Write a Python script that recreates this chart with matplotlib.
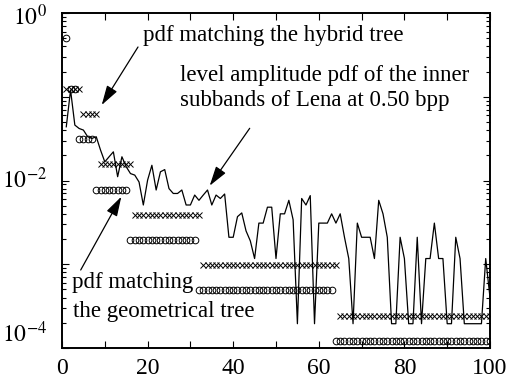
import matplotlib
matplotlib.use("Agg")
import matplotlib.pyplot as plt
import matplotlib.transforms as mtrans
from matplotlib.ticker import FixedLocator, LogLocator, NullFormatter

# ---------------- data ----------------
amplitude = list(range(1, 101))
pdf_lena = [
    0.0438, 0.120, 0.0459, 0.0418, 0.0400, 0.0333, 0.0318, 0.0333, 0.0231, 0.0167,
    0.0192, 0.0220, 0.0111, 0.0192, 0.0146, 0.0121, 0.0116, 0.0096, 0.0051, 0.0101,
    0.0152, 0.0077, 0.0127, 0.0135, 0.0080, 0.0070, 0.0070, 0.0077, 0.0051, 0.0051,
    0.0067, 0.0058, 0.0067, 0.0077, 0.0051, 0.0067, 0.0061, 0.0069, 0.0021, 0.0021,
    0.0037, 0.0041, 0.0025, 0.0019, 0.00117, 0.0031, 0.0031, 0.0048, 0.0048, 0.00117,
    0.0040, 0.0040, 0.0058, 0.0034, 0.000195, 0.0061, 0.0051, 0.0066, 0.000195, 0.0031,
    0.0031, 0.0031, 0.0040, 0.0031, 0.0040, 0.0021, 0.00117, 0.000195, 0.0031, 0.0021,
    0.0021, 0.0021, 0.00117, 0.0058, 0.0040, 0.0021, 0.000195, 0.000195, 0.0021, 0.00117,
    0.000195, 0.000195, 0.0021, 0.000195, 0.00117, 0.00117, 0.0031, 0.00117, 0.00117, 0.000195,
    0.000195, 0.0021, 0.00117, 0.000195, 0.000195, 0.000195, 0.000195, 0.000195, 0.00117, 0.0004,
]

# piecewise-constant model pdfs: (first amplitude, last amplitude, level)
hybrid_start = [1, 5, 9, 17, 33, 65]
hybrid_end = [4, 8, 16, 32, 64, 100]
hybrid_level = [0.125, 0.0625, 0.0156, 0.0039, 0.00098, 0.000244]

geo_start = [1, 2, 4, 8, 16, 32, 64]
geo_end = [1, 3, 7, 15, 31, 63, 100]
geo_level = [0.5, 0.125, 0.0313, 0.0078, 0.00195, 0.00049, 0.000122]

xtick_labels = ["0", "20", "40", "60", "80", "100"]
ytick_vals = [1e0, 1e-2, 1e-4]
ytick_text = ["$10^{0}$", "$10^{-2}$", "$10^{-4}$"]


def expand(starts, ends, levels):
    xs, ys = [], []
    for s, e, v in zip(starts, ends, levels):
        for a in range(s, e + 1):
            xs.append(a)
            ys.append(v)
    return xs, ys


hx, hy = expand(hybrid_start, hybrid_end, hybrid_level)
gx, gy = expand(geo_start, geo_end, geo_level)

# ---------------- figure ----------------
plt.rcParams["font.family"] = ["Liberation Serif", "DejaVu Serif"]
plt.rcParams["mathtext.fontset"] = "stix"

fig = plt.figure(figsize=(5.27, 3.80), dpi=100)
L, R, T, B = 62, 490, 13, 348
ax = fig.add_axes([L / 527, 1 - B / 380, (R - L) / 527, (B - T) / 380])

ax.plot(amplitude, pdf_lena, color="black", lw=0.9, zorder=3)
ax.plot(hx, hy, linestyle="none", marker="x", ms=4.4, mew=0.7, color="black", zorder=4)
ax.plot(gx, gy, linestyle="none", marker="o", ms=4.8, mew=0.7, mfc="none", mec="black", zorder=4)

ax.set_yscale("log")
ax.set_xlim(0, 100)
ax.set_ylim(1e-4, 1e0)

ax.xaxis.set_major_locator(FixedLocator(list(range(0, 101, 10))))
labels_iter = iter(xtick_labels)
ax.set_xticklabels([next(labels_iter) if v % 20 == 0 else "" for v in range(0, 101, 10)])
ax.yaxis.set_major_locator(FixedLocator([1e0, 1e-1, 1e-2, 1e-3, 1e-4]))
ax.yaxis.set_minor_locator(LogLocator(base=10, subs=range(2, 10)))
ax.yaxis.set_major_formatter(NullFormatter())
ax.yaxis.set_minor_formatter(NullFormatter())
ax.tick_params(which="both", direction="in", top=True, right=True, width=0.8)
ax.tick_params(which="major", length=5, labelsize=17, pad=7)
ax.tick_params(which="minor", length=3)
for sp in ax.spines.values():
    sp.set_linewidth(1.4)

# y labels (placed as text; vertical nudges in pixels)
ytr = ax.get_yaxis_transform()
nudges_px = [-4, 0, 14]
for v, t, dy in zip(ytick_vals, ytick_text, nudges_px):
    ax.text(-0.035, v, t, ha="right", va="center", fontsize=17,
            transform=ytr + mtrans.ScaledTranslation(0, dy / 100, fig.dpi_scale_trans))


def fx(px):
    return (px - L) / (R - L)


def fy(py):
    return (B - py) / (B - T)


tsize = 16.5
ax.text(fx(143), fy(40.5), "pdf matching the hybrid tree", transform=ax.transAxes,
        fontsize=tsize, ha="left", va="baseline")
ax.text(fx(180), fy(81.5), "level amplitude pdf of the inner", transform=ax.transAxes,
        fontsize=tsize, ha="left", va="baseline")
ax.text(fx(180), fy(106), "subbands of Lena at 0.50 bpp", transform=ax.transAxes,
        fontsize=tsize, ha="left", va="baseline")
ax.text(fx(72), fy(288), "pdf matching", transform=ax.transAxes,
        fontsize=tsize, ha="left", va="baseline")
ax.text(fx(73), fy(316.5), "the geometrical tree", transform=ax.transAxes,
        fontsize=tsize, ha="left", va="baseline")

arrow = dict(arrowstyle="-|>,head_length=1.0,head_width=0.3", lw=0.9, color="black",
             shrinkA=0, shrinkB=0, mutation_scale=12)
ax.annotate("", xy=(fx(101.7), fy(105)), xytext=(fx(138), fy(47)),
            xycoords="axes fraction", textcoords="axes fraction", arrowprops=arrow)
ax.annotate("", xy=(fx(209.7), fy(185.7)), xytext=(fx(249.7), fy(128.3)),
            xycoords="axes fraction", textcoords="axes fraction", arrowprops=arrow)
ax.annotate("", xy=(fx(121.3), fy(196.7)), xytext=(fx(80.7), fy(270)),
            xycoords="axes fraction", textcoords="axes fraction", arrowprops=arrow)

fig.savefig("out.png", dpi=100)
